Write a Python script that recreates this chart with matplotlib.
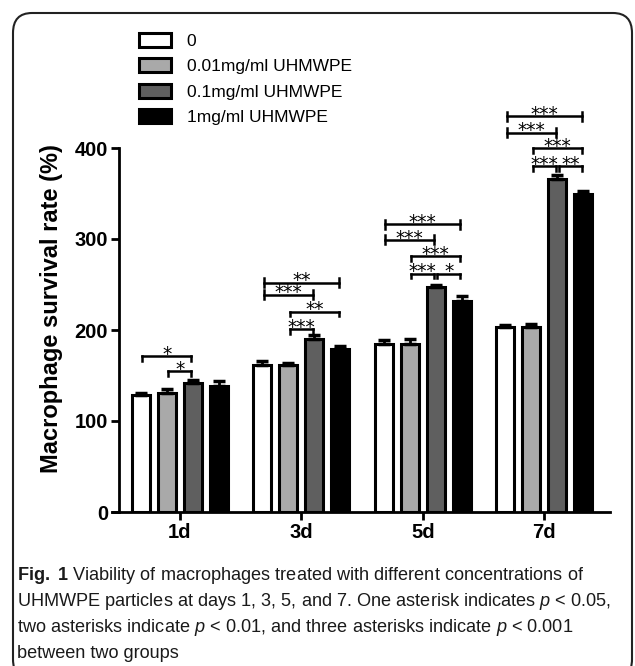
import numpy as np
import matplotlib
matplotlib.use("Agg")
import matplotlib.pyplot as plt
from matplotlib.patches import FancyBboxPatch

plt.rcParams['font.family'] = ['Liberation Sans', 'DejaVu Sans']
plt.rcParams['mathtext.fontset'] = 'custom'
plt.rcParams['mathtext.rm'] = 'Liberation Sans'
plt.rcParams['mathtext.it'] = 'Liberation Sans:italic'
plt.rcParams['mathtext.bf'] = 'Liberation Sans:bold'

# data
days = ["1d", "3d", "5d", "7d"]
groups = ["0", "0.01mg/ml UHMWPE", "0.1mg/ml UHMWPE", "1mg/ml UHMWPE"]
mean_0 = [129, 161, 185, 203]
mean_001 = [131, 161, 185, 203]
mean_01 = [142, 190, 247, 366]
mean_1 = [139, 179, 232, 349]
err_0 = [2, 5, 4, 2]
err_001 = [4, 3, 5, 4]
err_01 = [3, 4, 3, 4]
err_1 = [5, 3, 5, 4]
colors = ["white", "#a9a9a9", "#5f5f5f", "black"]

# significance brackets: (day index, bar a, bar b, height, label, I-shaped ends)
brackets = [
    (0, 0, 2, 171, "*", False), (0, 1, 2, 155, "*", False),
    (1, 0, 3, 252, "**", True), (1, 0, 2, 239, "***", True),
    (1, 1, 3, 220, "**", False), (1, 1, 2, 201, "***", False),
    (2, 0, 3, 316, "***", True), (2, 0, 2, 299, "***", True),
    (2, 1, 3, 281, "***", False), (2, 1, 2, 262, "***", False),
    (2, 2, 3, 262, "*", False),
    (3, 0, 3, 435, "***", True), (3, 0, 2, 417, "***", True),
    (3, 1, 3, 400, "***", False), (3, 1, 2, 380, "***", False),
    (3, 2, 3, 380, "**", False),
]

caption = [
    r"$\mathbf{Fig.\ 1}$ Viability of macrophages treated with different concentrations of",
    r"UHMWPE particles at days 1, 3, 5, and 7. One asterisk indicates $p$ < 0.05,",
    r"two asterisks indicate $p$ < 0.01, and three asterisks indicate $p$ < 0.001",
    r"between two groups",
]

means = [mean_0, mean_001, mean_01, mean_1]
errs = [err_0, err_001, err_01, err_1]

fig = plt.figure(figsize=(6.35, 6.66), dpi=100)
ax = fig.add_axes([119 / 635, 154 / 666, 491 / 635, 364 / 666])

x = np.arange(len(days))
step = 0.214
width = 0.148
offsets = [-1.5 * step, -0.5 * step, 0.5 * step, 1.5 * step]

handles = []
for k in range(4):
    xs = x + offsets[k]
    b = ax.bar(xs, means[k], width, color=colors[k], edgecolor="black",
               linewidth=2.2, label=groups[k], zorder=2)
    handles.append(b)
    ax.errorbar(xs, means[k], yerr=[np.zeros(4), errs[k]], fmt="none",
                ecolor="black", elinewidth=2, capsize=4, capthick=2.5, zorder=3)

# brackets
tick = 5
for d, a, b, y, lab, ibeam in brackets:
    x0 = d + offsets[a] + 0.012
    x1 = d + offsets[b] - 0.012
    ax.plot([x0, x1], [y, y], color="black", lw=1.8, clip_on=False, zorder=4)
    lo = y - tick
    hi = y + tick if ibeam else y
    ax.plot([x0, x0], [lo, hi], color="black", lw=1.8, clip_on=False, zorder=4)
    ax.plot([x1, x1], [lo, hi], color="black", lw=1.8, clip_on=False, zorder=4)
    ax.text((x0 + x1) / 2, y - 4, lab, ha="center", va="baseline",
            fontsize=13.5, family="DejaVu Sans", clip_on=False)

ax.set_xlim(-0.5, 3.54)
ax.set_ylim(0, 400)
ax.set_yticks([0, 100, 200, 300, 400])
ax.set_xticks(x)
ax.set_xticklabels(days)
for lbl in ax.get_xticklabels() + ax.get_yticklabels():
    lbl.set_fontweight("bold")
    lbl.set_fontsize(14.5)
ax.tick_params(axis="both", width=2, length=6, pad=2)
ax.spines["top"].set_visible(False)
ax.spines["right"].set_visible(False)
ax.spines["left"].set_linewidth(2)
ax.spines["bottom"].set_linewidth(2)
ax.spines["bottom"].set_bounds(-0.56, 3.54)

ax.set_ylabel("Macrophage survival rate (%)", fontsize=17, fontweight="bold")
ax.yaxis.set_label_coords(-0.115, 0.56)

fig.legend(handles=handles, labels=groups, loc="upper left",
           bbox_to_anchor=(139 / 635, 1 - 33 / 666), frameon=False,
           fontsize=12.5, handlelength=1.85, handleheight=0.85,
           handletextpad=0.9, labelspacing=0.55, borderpad=0, borderaxespad=0)

# caption
line_y = [575, 602, 628, 654]
for txt, yy in zip(caption, line_y):
    fig.text(17 / 635, 1 - yy / 666, txt, fontsize=13.1, ha="left", va="center",
             color="#1a1a1a")

# rounded frame around everything
frame = FancyBboxPatch((13 / 635, -0.02), 619 / 635, 1 - 13 / 666 + 0.02,
                       boxstyle="round,pad=0,rounding_size=0.03",
                       transform=fig.transFigure, fill=False,
                       edgecolor="#222222", linewidth=1.5, clip_on=False)
fig.patches.append(frame)

fig.savefig("out.png", dpi=100)
